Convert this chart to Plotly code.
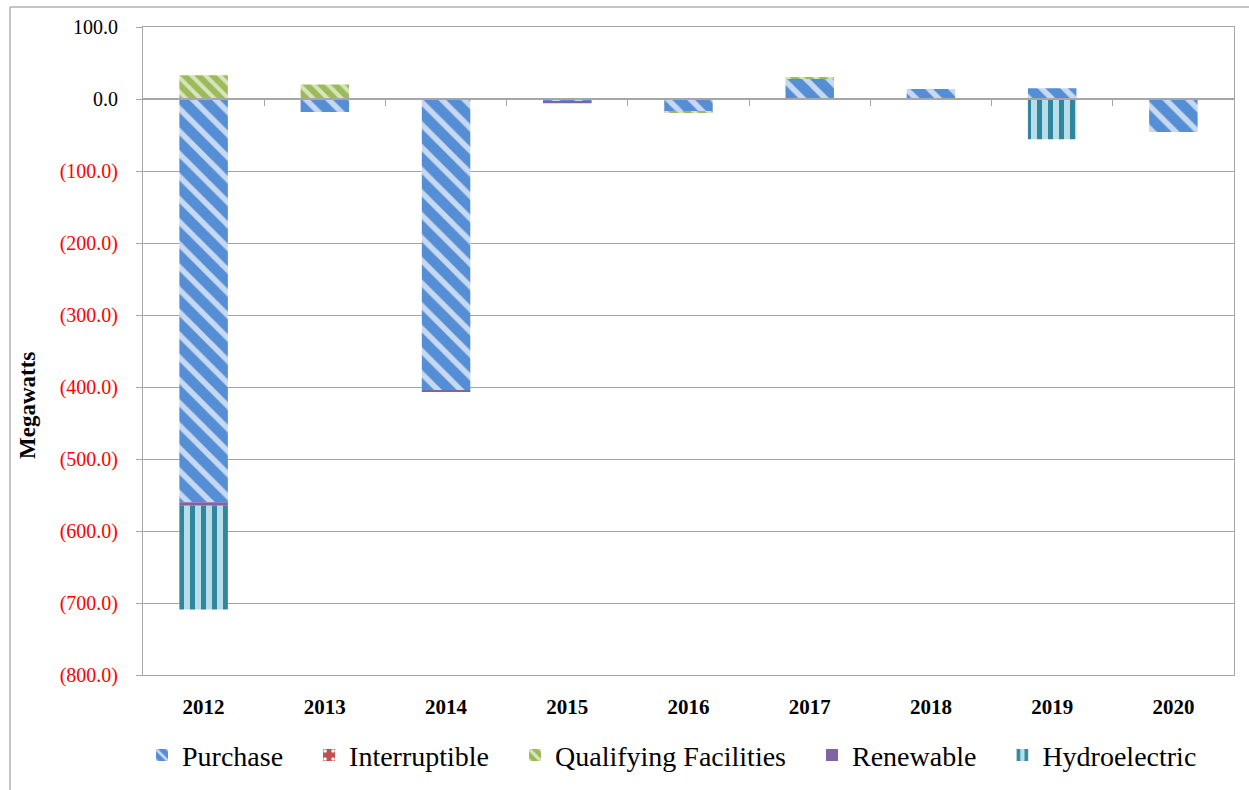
import plotly.graph_objects as go

years = ["2012", "2013", "2014", "2015", "2016", "2017", "2018", "2019", "2020"]
purchase = [-560, -18, -405, -3, -18, 29, 14, 15, -46]
interruptible = [0, 0, 0, 0, 0, 0, 0, 0, 0]
qualifying = [33, 20, 0, -1, -1.5, 1, 0, 0, 0]
renewable = [-5, 0, -2, -2, 0, 0, 0, 0, 0]
hydroelectric = [-144, 0, 0, 0, 0, 0, 0, -56, 0]

tick_values = [100, 0, -100, -200, -300, -400, -500, -600, -700, -800]
tick_labels = ["100.0", "0.0", "(100.0)", "(200.0)", "(300.0)", "(400.0)",
               "(500.0)", "(600.0)", "(700.0)", "(800.0)"]

FONT = "Liberation Serif, Times New Roman, serif"
GRID = "#A6A6A6"
PAD = "\u00a0" * 3

def fmt(v, lab):
    return lab if v >= 0 else '<span style="color:#FF0000">' + lab + '</span>'

series = [
    ("Purchase", purchase, dict(color="#558ED5", line=dict(width=0),
                                pattern=dict(shape="\\", bgcolor="#558ED5", fgcolor="#C6D9F1",
                                             size=16, solidity=0.35, fillmode="replace"))),
    ("Interruptible", interruptible, dict(color="#C0504D", line=dict(width=0),
                                          pattern=dict(shape=".", bgcolor="#C0504D", fgcolor="#FFFFFF",
                                                       size=14, solidity=0.15, fillmode="replace"))),
    ("Qualifying Facilities", qualifying, dict(color="#9BBB59", line=dict(width=0),
                                               pattern=dict(shape="\\", bgcolor="#9BBB59", fgcolor="#D7E4BD",
                                                            size=10, solidity=0.4, fillmode="replace"))),
    ("Renewable", renewable, dict(color="#8064A2", line=dict(width=0))),
    ("Hydroelectric", hydroelectric, dict(color="#B7DEE8", line=dict(width=0),
                                          pattern=dict(shape="|", bgcolor="#B7DEE8", fgcolor="#31859C",
                                                       size=11, solidity=0.45, fillmode="replace"))),
]

fig = go.Figure()
for i, (name, vals, marker) in enumerate(series):
    label = name if i == len(series) - 1 else name + PAD
    fig.add_trace(go.Bar(x=years, y=vals, name=label, marker=marker, hoverinfo="skip"))

# invisible trace to create the zero-line axis with boundary ticks
fig.add_trace(go.Scatter(x=[0], y=[0], xaxis="x2", yaxis="y", mode="markers",
                         marker=dict(opacity=0), showlegend=False, hoverinfo="skip"))

fig.update_layout(
    width=1249, height=790,
    margin=dict(l=143, r=15, t=27, b=115, autoexpand=False),
    paper_bgcolor="white", plot_bgcolor="white",
    barmode="relative", bargap=0.6,
    font=dict(family=FONT, size=20, color="black"),
    showlegend=True,
    legend=dict(orientation="h", x=(142 - 143) / 1091, xanchor="left", y=-0.124, yanchor="middle",
                font=dict(family=FONT, size=28), traceorder="normal",
                itemwidth=30, tracegroupgap=0),
    xaxis=dict(type="category", showgrid=False, showline=True, linecolor=GRID, mirror=True,
               ticks="", tickfont=dict(family=FONT, size=21, color="black", weight="bold"),
               ticklabelstandoff=13, zeroline=False),
    xaxis2=dict(overlaying="x", anchor="free", position=(675 - 99) / 648,
                range=[-0.5, len(years) - 0.5], showgrid=False, showline=True, linecolor=GRID,
                linewidth=1.5, ticks="outside", ticklen=6, tickcolor=GRID,
                tickvals=[i + 0.5 for i in range(len(years) - 1)], showticklabels=False,
                zeroline=False),
    yaxis=dict(range=[-800, 100], tickvals=tick_values,
               ticktext=[fmt(v, l) for v, l in zip(tick_values, tick_labels)],
               showgrid=True, gridcolor=GRID, gridwidth=1, showline=True, linecolor=GRID,
               mirror=True, ticks="outside", ticklen=6, tickcolor=GRID,
               tickfont=dict(family=FONT, size=20), ticklabelstandoff=14, zeroline=False),
    annotations=[dict(text="<b>Megawatts</b>", xref="paper", yref="paper",
                      x=(27 - 143) / 1091, y=(675 - 406) / 648, textangle=-90,
                      showarrow=False, font=dict(family=FONT, size=23),
                      xanchor="center", yanchor="middle")],
    shapes=[dict(type="rect", xref="paper", yref="paper",
                 x0=(10 - 143) / 1091, x1=(1252 - 143) / 1091,
                 y0=(675 - 793) / 648, y1=1 + (27 - 7) / 648,
                 line=dict(color="#8C8C8C", width=1), fillcolor="rgba(0,0,0,0)", layer="below")],
)

fig.write_html("out.html")
